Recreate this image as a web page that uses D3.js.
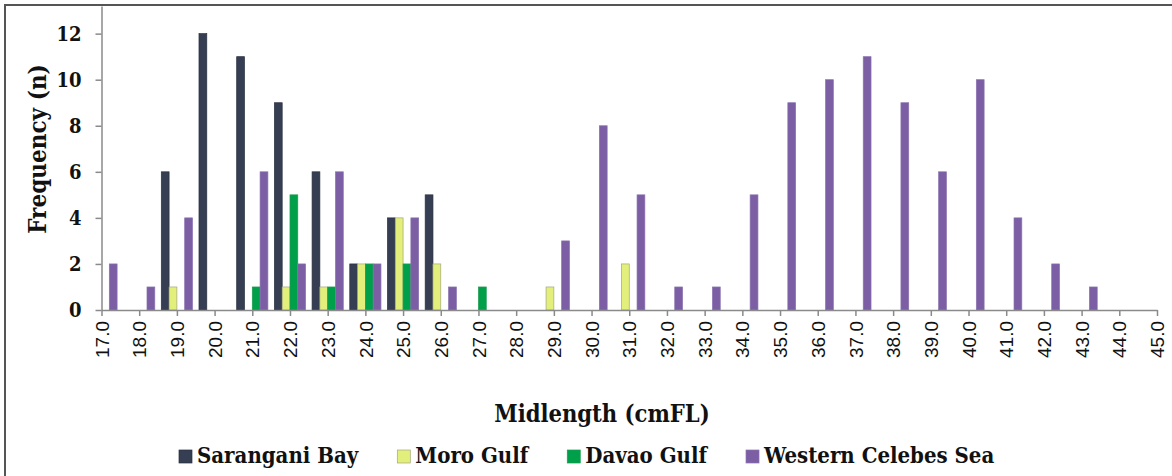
<!DOCTYPE html>
<html>
<head>
<meta charset="utf-8">
<script src="https://cdn.jsdelivr.net/npm/d3@7"></script>
<style>
  html, body { margin: 0; padding: 0; background: #ffffff; }
  svg { display: block; }
  .serif { font-family: "DejaVu Serif", serif; font-weight: bold; font-stretch: condensed; fill: #111; }
  .sans { font-family: "Liberation Sans", Arial, sans-serif; fill: #111; }
</style>
</head>
<body>
<svg id="chart" width="1172" height="476"></svg>
<script>
// Midlength classes (cm fork length)
const categories = [17, 18, 19, 20, 21, 22, 23, 24, 25, 26, 27, 28, 29, 30, 31,
                    32, 33, 34, 35, 36, 37, 38, 39, 40, 41, 42, 43, 44, 45];

// Frequency per midlength class for each sampling area
const saranganiBay = [0, 0, 6, 12, 11, 9, 6, 2, 4, 5, 0, 0, 0, 0, 0,
                      0, 0, 0, 0, 0, 0, 0, 0, 0, 0, 0, 0, 0, 0];
const moroGulf     = [0, 0, 1, 0, 0, 1, 1, 2, 4, 2, 0, 0, 1, 0, 2,
                      0, 0, 0, 0, 0, 0, 0, 0, 0, 0, 0, 0, 0, 0];
const davaoGulf    = [0, 0, 0, 0, 1, 5, 1, 2, 2, 0, 1, 0, 0, 0, 0,
                      0, 0, 0, 0, 0, 0, 0, 0, 0, 0, 0, 0, 0, 0];
const westernCelebesSea = [2, 1, 4, 0, 6, 2, 6, 2, 4, 1, 0, 0, 3, 8, 5,
                           1, 1, 5, 9, 10, 11, 9, 6, 10, 4, 2, 1, 0, 0];

const seriesNames = ["Sarangani Bay", "Moro Gulf", "Davao Gulf", "Western Celebes Sea"];
const yTicks = [0, 2, 4, 6, 8, 10, 12];

const series = [
  { name: seriesNames[0], values: saranganiBay, fill: "#353e52", stroke: "#2a3140" },
  { name: seriesNames[1], values: moroGulf, fill: "#e3ef7b", stroke: "#a3a67e" },
  { name: seriesNames[2], values: davaoGulf, fill: "#00a04b", stroke: "#1c9a50" },
  { name: seriesNames[3], values: westernCelebesSea, fill: "#7b5ea4", stroke: "#8a72b0" }
];

const svg = d3.select("#chart");

// outer frame
svg.append("rect")
  .attr("x", 5).attr("y", 5)
  .attr("width", 1200).attr("height", 520)
  .attr("fill", "none")
  .attr("stroke", "#555")
  .attr("stroke-width", 2);

const x = d3.scalePoint().domain(categories).range([101.5, 1157]);
const barW = 7.8;
const xInner = d3.scaleBand().domain(seriesNames).range([-2 * barW, 2 * barW]).padding(0);
const y = d3.scaleLinear().domain([0, 13.2]).range([310, 6]);

// bars
const g = svg.append("g");
series.forEach(s => {
  g.selectAll(null)
    .data(categories.map((c, i) => ({ c, v: s.values[i] })).filter(d => d.v > 0))
    .enter().append("rect")
    .attr("x", d => x(d.c) + xInner(s.name))
    .attr("y", d => y(d.v))
    .attr("width", xInner.bandwidth())
    .attr("height", d => y(0) - y(d.v))
    .attr("fill", s.fill)
    .attr("stroke", s.stroke)
    .attr("stroke-width", 0.7);
});

// y axis
const yAxis = svg.append("g")
  .attr("transform", "translate(101.5,0)")
  .call(d3.axisLeft(y).tickValues(yTicks).tickSize(6).tickSizeOuter(0).tickPadding(14));
yAxis.select(".domain").attr("stroke", "#8a8a8a").attr("stroke-width", 1.5);
yAxis.selectAll(".tick line").attr("stroke", "#8a8a8a").attr("stroke-width", 1.5);
yAxis.selectAll(".tick text")
  .attr("class", "serif")
  .style("font-size", "20px");

// x axis
const xAxis = svg.append("g")
  .attr("transform", "translate(0,310)")
  .call(d3.axisBottom(x).tickSize(6).tickSizeOuter(0).tickFormat(d => d.toFixed(1)));
xAxis.select(".domain").attr("stroke", "#8a8a8a").attr("stroke-width", 1.5);
xAxis.selectAll(".tick line").attr("stroke", "#8a8a8a").attr("stroke-width", 1.5);
xAxis.selectAll(".tick text")
  .attr("class", "sans")
  .style("font-size", "19px")
  .attr("text-anchor", "end")
  .attr("transform", "translate(0,11) rotate(-90)")
  .attr("x", 0).attr("y", 0)
  .attr("dy", "0.35em");

// axis titles
svg.append("text")
  .attr("class", "serif")
  .attr("transform", "translate(46,149) rotate(-90)")
  .attr("text-anchor", "middle")
  .style("font-size", "24px")
  .text("Frequency (n)");

svg.append("text")
  .attr("class", "serif")
  .attr("x", 602).attr("y", 422)
  .attr("text-anchor", "middle")
  .style("font-size", "23.5px")
  .text("Midlength (cmFL)");

// legend
const legend = svg.append("g");
let lx = 179;
series.forEach(s => {
  legend.append("rect")
    .attr("x", lx).attr("y", 450)
    .attr("width", 13).attr("height", 13)
    .attr("fill", s.fill)
    .attr("stroke", s.stroke)
    .attr("stroke-width", 0.7);
  const t = legend.append("text")
    .attr("class", "serif")
    .attr("x", lx + 18).attr("y", 463)
    .style("font-size", "22px")
    .text(s.name);
  lx += 18 + t.node().getComputedTextLength() + 39;
});
</script>
</body>
</html>
